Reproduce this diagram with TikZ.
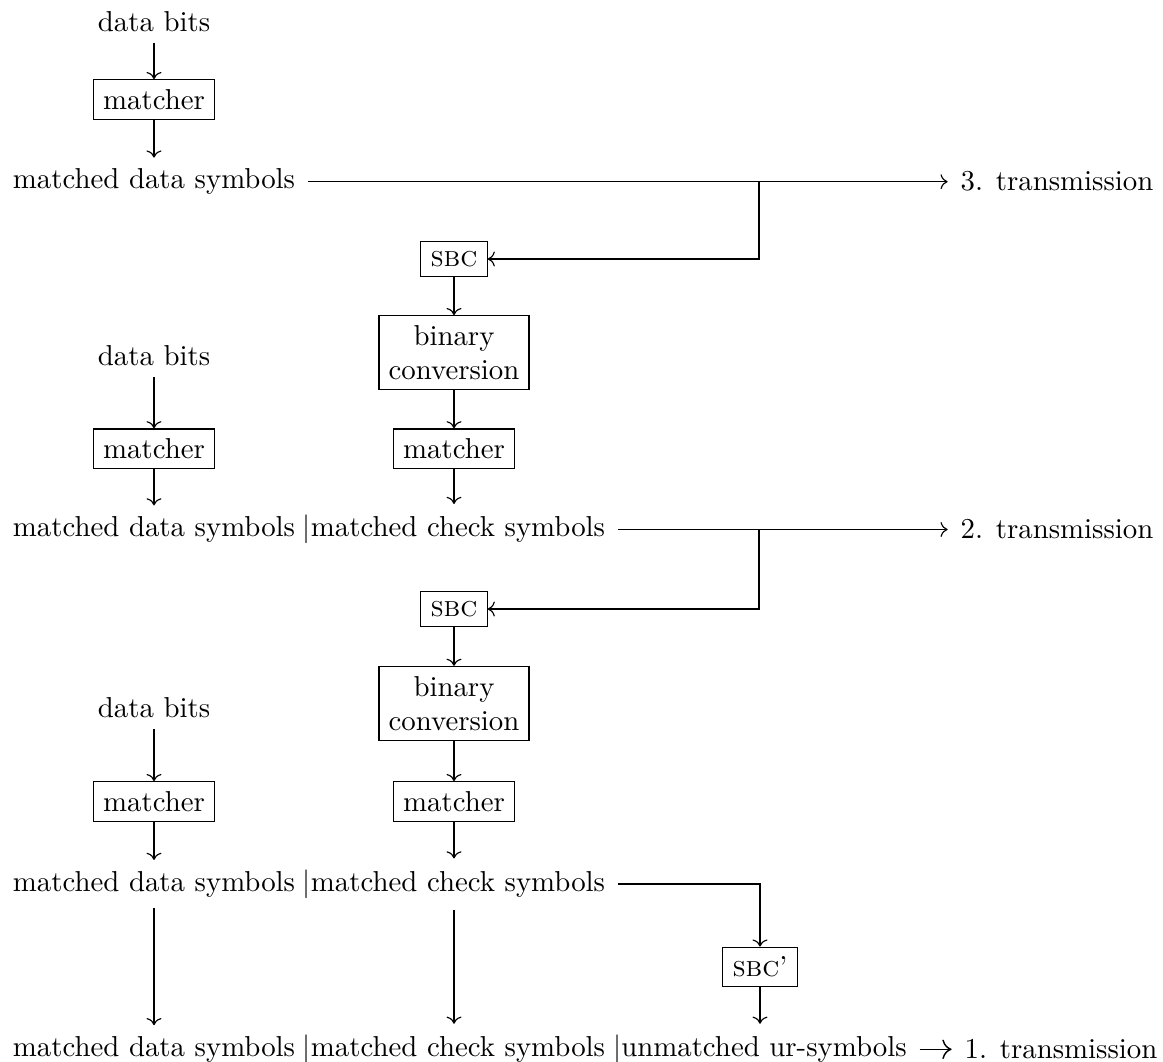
\documentclass[tikz,border=0pt]{standalone}
\usetikzlibrary{arrows.meta}
\begin{document}
\begin{tikzpicture}[x=0.3469pt,y=-0.3469pt,
  txt/.style={inner xsep=4.3pt,inner ysep=3.66pt},
  blk/.style={draw,inner sep=3.333pt},
  arr/.style={->},
  bigarr/.style={line width=0.5pt,-{Computer Modern Rightarrow[scale=1.2]}}]
\useasboundingbox (0,0) rectangle (1163,1062);
% block A
\node[txt] (db1) at (154,21.5) {data bits};
\node[blk] (m1) at (154,99.5) {matcher};
\node[txt] (mds1) at (154,181.7) {matched data symbols};
\node[txt] (t3) at (1057,181.7) {3. transmission};
\coordinate (b1) at (759,181.7);
\node[blk] (s1) at (454,259) {\textsc{sbc}};
\node[blk,align=center] (bc1) at (454,352.8) {binary\\conversion};
% block B
\node[txt] (db2) at (154,356) {data bits};
\node[blk] (m2a) at (154,448.7) {matcher};
\node[blk] (m2b) at (454,448.7) {matcher};
\node[txt] (mds2) at (154,529.5) {matched data symbols};
\node[txt] (mcs2) at (454,529.5) {$|$matched check symbols};
\node[txt] (t2) at (1057,529.5) {2. transmission};
\coordinate (b2) at (759,529.5);
\node[blk] (s2) at (454,609) {\textsc{sbc}};
\node[blk,align=center] (bc2) at (454,703.5) {binary\\conversion};
% block C
\node[txt] (db3) at (154,708) {data bits};
\node[blk] (m3a) at (154,801.5) {matcher};
\node[blk] (m3b) at (454,801.5) {matcher};
\node[txt] (mds3) at (154,884) {matched data symbols};
\node[txt] (mcs3) at (454,884) {$|$matched check symbols};
\node[blk] (sp) at (760,967) {\textsc{sbc}'};
% block D
\node[txt] (mds4) at (154,1049.3) {matched data symbols};
\node[txt] (mcs4) at (454,1049.3) {$|$matched check symbols};
\node[txt] (ums) at (760,1049.3) {$|$unmatched ur-symbols};
\node[txt] (t1) at (1061,1049.3) {1. transmission};
% connectors
\draw[arr] (db1) -- (m1);
\draw[arr] (m1) -- (mds1);
\draw[arr] (mds1) -- (t3);
\draw[arr] (b1) |- (s1);
\draw[arr] (s1) -- (bc1);
\draw[arr] (bc1) -- (m2b);
\draw[arr] (db2) -- (m2a);
\draw[arr] (m2a) -- (mds2);
\draw[arr] (m2b) -- (mcs2);
\draw[arr] (mcs2) -- (t2);
\draw[arr] (b2) |- (s2);
\draw[arr] (s2) -- (bc2);
\draw[arr] (bc2) -- (m3b);
\draw[arr] (db3) -- (m3a);
\draw[arr] (m3a) -- (mds3);
\draw[arr] (m3b) -- (mcs3);
\draw[arr] (mcs3) -| (sp);
\draw[arr] (mds3) -- (mds4);
\draw[arr] (mcs3) -- (mcs4);
\draw[arr] (sp) -- (ums);
\draw[bigarr] (ums) -- (t1);
\end{tikzpicture}
\end{document}
